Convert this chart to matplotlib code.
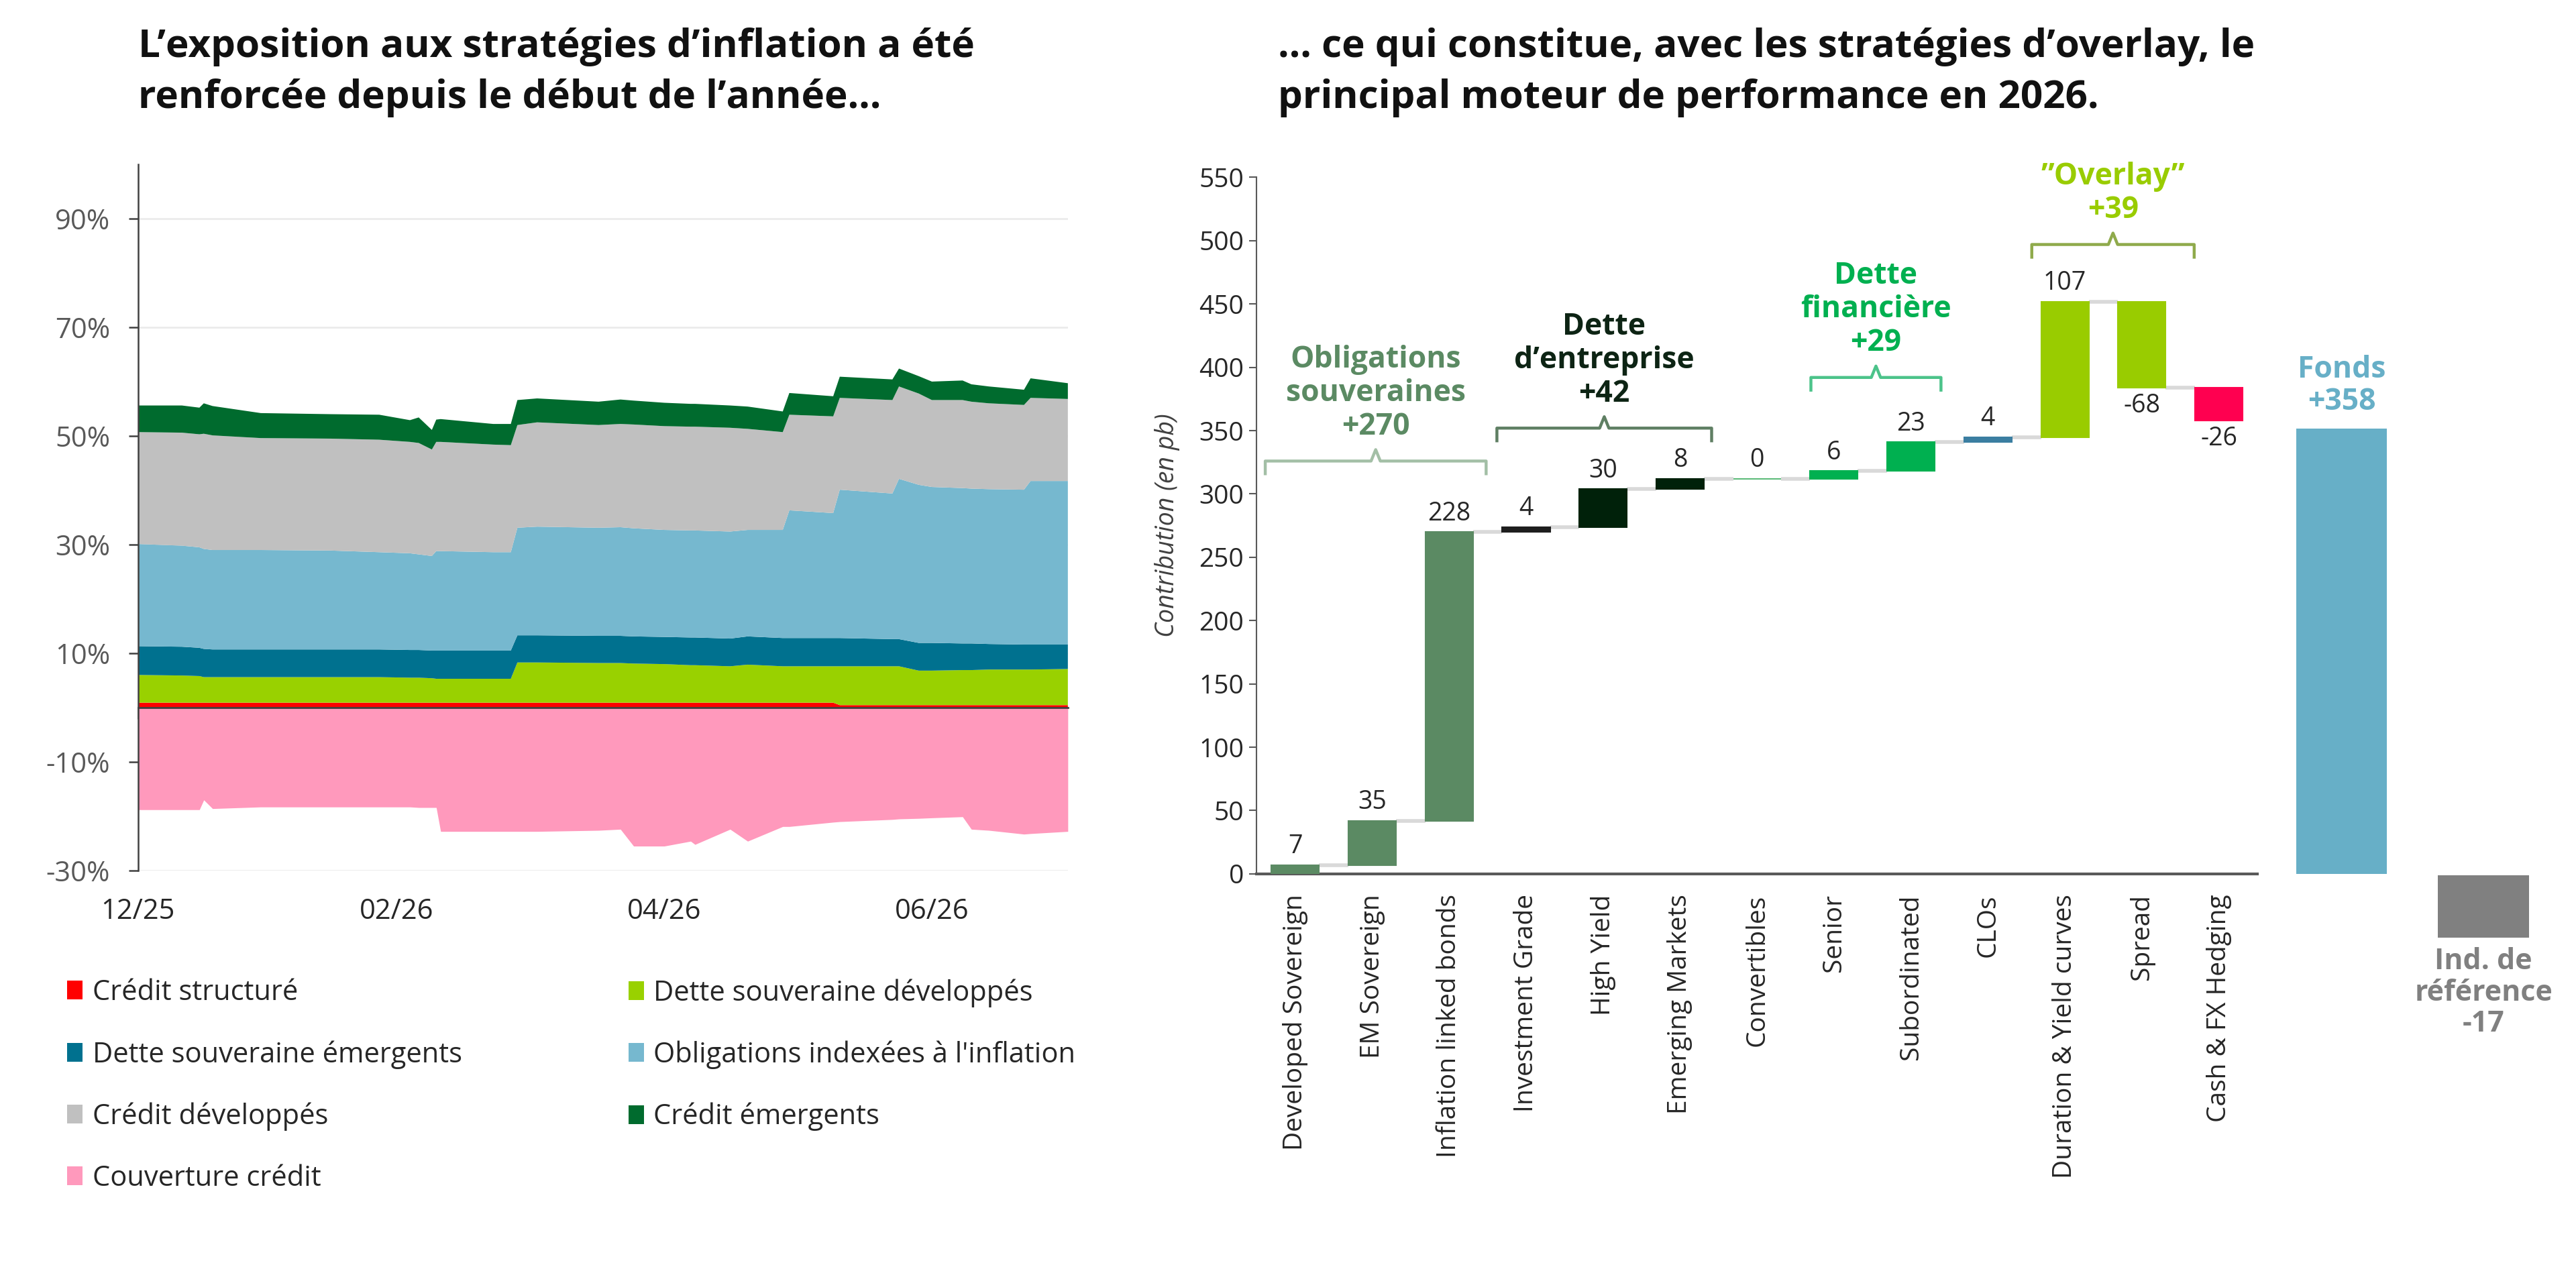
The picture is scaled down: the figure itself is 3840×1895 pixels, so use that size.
import numpy as np
import matplotlib
matplotlib.use('Agg')
import matplotlib.pyplot as plt
from matplotlib.patches import Patch

plt.rcParams['font.family'] = ['Open Sans', 'DejaVu Sans']

# ---------- left chart: exposures (% of NAV), days since 31/12/2025 ----------
DAYS = [0, 10, 14, 15, 17, 28, 44, 55, 62, 64, 67, 68, 69, 81, 85, 86.5, 91, 105,
        110, 113, 120, 126, 127, 135, 139, 147, 148.5, 158.5, 160, 172, 173.5,
        178, 181, 188, 190, 194, 202, 203.5, 212]

CREDIT_STRUCTURE = [0.9] * 28 + [0.45] * 11
DETTE_SOUV_DEV = [5.1, 5.0, 4.9, 4.7, 4.7, 4.7, 4.7, 4.7, 4.6, 4.6, 4.5, 4.4, 4.4,
                  4.4, 4.4, 7.4, 7.4, 7.3, 7.3, 7.2, 7.1, 6.9, 6.9, 6.7, 7.0, 6.7,
                  6.7, 6.7, 7.15, 7.15, 7.15, 6.35, 6.35, 6.45, 6.45, 6.55, 6.55,
                  6.55, 6.65]
DETTE_SOUV_EM = [5.3, 5.3, 5.2, 5.2, 5.1, 5.1, 5.1, 5.1, 5.1, 5.1, 5.1, 5.2, 5.2,
                 5.2, 5.2, 5.0, 5.0, 5.0, 5.0, 5.0, 5.0, 5.1, 5.1, 5.1, 5.2, 5.2,
                 5.2, 5.2, 5.2, 5.0, 5.0, 5.1, 5.1, 4.9, 4.9, 4.7, 4.6, 4.6, 4.5]
OBLIG_INDEXEES = [18.8, 18.6, 18.5, 18.4, 18.3, 18.3, 18.2, 17.9, 17.8, 17.6, 17.4,
                  18.3, 18.3, 18.1, 18.1, 19.8, 20.0, 19.9, 20.0, 19.9, 19.7, 19.7,
                  19.7, 19.7, 19.6, 19.9, 23.5, 23.0, 27.3, 26.8, 29.5, 29.1, 28.7,
                  28.6, 28.5, 28.5, 28.5, 30.1, 30.1]
CREDIT_DEV = [20.6, 20.8, 20.8, 21.2, 21.1, 20.6, 20.6, 20.7, 20.5, 20.5, 19.6,
              20.1, 20.1, 19.8, 19.7, 18.9, 19.2, 18.9, 19.0, 19.1, 19.1, 19.1,
              19.1, 19.1, 18.6, 18.0, 17.6, 17.8, 16.9, 17.2, 17.0, 16.8, 16.0,
              16.2, 16.0, 15.8, 15.6, 15.3, 15.1]
CREDIT_EM = [4.9, 5.0, 4.9, 5.6, 5.4, 4.6, 4.5, 4.6, 4.0, 4.7, 3.6, 4.1, 4.2, 3.8,
             3.9, 4.6, 4.4, 4.3, 4.5, 4.4, 4.3, 4.2, 4.2, 4.1, 4.1, 3.8, 4.0, 3.7,
             3.9, 3.8, 3.3, 3.2, 3.4, 3.6, 3.2, 3.1, 2.8, 3.6, 2.9]
COUVERTURE_CREDIT = [-18.8, -18.8, -18.8, -17.0, -18.6, -18.3, -18.3, -18.3, -18.3,
                     -18.4, -18.4, -18.4, -22.8, -22.8, -22.8, -22.8, -22.8, -22.6,
                     -22.4, -25.5, -25.5, -24.6, -25.2, -22.4, -24.6, -21.9, -21.9,
                     -21.1, -21.0, -20.6, -20.5, -20.4, -20.3, -20.1, -22.4, -22.6,
                     -23.3, -23.2, -22.8]

X_TICKS = [0, 59, 120, 181]
X_TICK_LABELS = ['12/25', '02/26', '04/26', '06/26']

SERIES_NAMES = ['Crédit structuré', 'Dette souveraine développés',
                'Dette souveraine émergents', "Obligations indexées à l'inflation",
                'Crédit développés', 'Crédit émergents', 'Couverture crédit']
SERIES_COLORS = ['#FF0000', '#99D100', '#00718F', '#76B8CF', '#C0C0C0', '#006B2E',
                 '#FF99BC']

# ---------- right chart: contributions (bp) ----------
CATEGORIES = ['Developed Sovereign', 'EM Sovereign', 'Inflation linked bonds',
              'Investment Grade', 'High Yield', 'Emerging Markets', 'Convertibles',
              'Senior', 'Subordinated', 'CLOs', 'Duration & Yield curves', 'Spread',
              'Cash & FX Hedging']
CONTRIB = [7, 35, 228, 4, 30, 8, 0, 6, 23, 4, 107, -68, -26]
BAR_COLORS = ['#5B8A63', '#5B8A63', '#5B8A63', '#1E1E1E', '#00210A', '#00210A',
              '#5DBB7A', '#00B050', '#00B050', '#3B7EA1', '#99CC00', '#99CC00',
              '#FF0050']

GROUP_NAMES = ['Obligations\nsouveraines', 'Dette\nd’entreprise', 'Dette\nfinancière',
               '”Overlay”']
GROUP_TOTALS = [270, 42, 29, 39]
FONDS = 358
INDICE_REF = -17

# layout of group braces (x in category units, y in bp)
GROUP_SPANS = [(-0.39, 2.48), (2.62, 5.41), (6.70, 8.39), (9.57, 11.68)]
GROUP_LEVELS = [326, 352, 392, 497]
GROUP_TEXT_COLORS = ['#5B8A63', '#0D2414', '#00B050', '#99CC00']
GROUP_BRACE_COLORS = ['#A3BFA6', '#5F7F63', '#4CC38A', '#8FAA4B']

TXT = '#262626'
W, H = 1568, 773.8  # reference layout grid

fig = plt.figure(figsize=(38.4, 18.95), dpi=100, facecolor='white')

# ================= LEFT: stacked exposures =================
ax = fig.add_axes([84 / W, 1 - 530 / H, (650 - 84) / W, (530 - 100) / H])
layers = [CREDIT_STRUCTURE, DETTE_SOUV_DEV, DETTE_SOUV_EM, OBLIG_INDEXEES,
          CREDIT_DEV, CREDIT_EM]
ax.stackplot(DAYS, *layers, colors=SERIES_COLORS[:6], linewidth=0, zorder=2)
ax.fill_between(DAYS, 0, COUVERTURE_CREDIT, color=SERIES_COLORS[6], linewidth=0,
                zorder=2)

ax.set_xlim(0, 212)
ax.set_ylim(-30, 100)
ax.set_yticks(np.arange(-30, 91, 20))
ax.set_yticklabels([f'{v}%' for v in range(-30, 91, 20)])
ax.grid(axis='y', color='#EBEBEB', linewidth=2, zorder=0)
ax.set_axisbelow(True)
for s in ['top', 'right']:
    ax.spines[s].set_visible(False)
ax.spines['left'].set_color('#404040')
ax.spines['left'].set_linewidth(1.8)
ax.spines['bottom'].set_position(('data', 0))
ax.spines['bottom'].set_color('#404040')
ax.spines['bottom'].set_linewidth(2)
ax.spines['bottom'].set_zorder(3)
ax.set_xticks(X_TICKS)
ax.set_xticklabels(X_TICK_LABELS)
ax.tick_params(axis='x', length=12, width=1.8, color='#404040', pad=192,
               labelsize=30, labelcolor=TXT)
ax.tick_params(axis='y', length=10, width=1.8, color='#404040', pad=20,
               labelsize=30, labelcolor='#595959')

order = [0, 2, 4, 6, 1, 3, 5]
col1 = [Patch(facecolor=SERIES_COLORS[i], label=SERIES_NAMES[i]) for i in order[:4]]
col2 = [Patch(facecolor=SERIES_COLORS[i], label=SERIES_NAMES[i]) for i in order[4:]]
leg_kw = dict(loc='upper left', frameon=False, fontsize=30, handlelength=0.55,
              handleheight=0.65, handletextpad=0.35, labelspacing=1.2,
              borderpad=0, borderaxespad=0, labelcolor=TXT)
fig.legend(handles=col1, bbox_to_anchor=(100 / 3840, 1 - 1459 / 1895), **leg_kw)
fig.legend(handles=col2, bbox_to_anchor=(937 / 3840, 1 - 1459 / 1895), **leg_kw)

fig.text(84 / W, 1 - 44 / H,
         'L’exposition aux stratégies d’inflation a été\nrenforcée depuis le début de l’année…',
         fontsize=42, fontweight='bold', color='#111111', ha='left', va='center',
         linespacing=1.42)

# ================= RIGHT: waterfall =================
ax2 = fig.add_axes([765 / W, 1 - 532 / H, (1374 - 765) / W, (532 - 108) / H])
x = np.arange(len(CATEGORIES))
ends = np.cumsum(CONTRIB)
starts = ends - np.array(CONTRIB)
bw = 0.62
ax2.bar(x, CONTRIB, bottom=starts, width=bw, color=BAR_COLORS,
        edgecolor=BAR_COLORS, linewidth=1.5, zorder=3)
ax2.hlines(ends[:-1], x[:-1] + bw / 2, x[1:] - bw / 2, color='#D9D9D9',
           linewidth=4, zorder=2)

for xi, v, e in zip(x, CONTRIB, ends):
    if v >= 0:
        ax2.annotate(str(v), (xi, e), xytext=(0, 6), textcoords='offset points',
                     ha='center', va='bottom', fontsize=27, color=TXT)
    else:
        ax2.annotate(str(v), (xi, e), xytext=(0, -6), textcoords='offset points',
                     ha='center', va='top', fontsize=27, color=TXT)

for name, tot, (x0, x1), lvl, tc, bc in zip(GROUP_NAMES, GROUP_TOTALS, GROUP_SPANS,
                                              GROUP_LEVELS, GROUP_TEXT_COLORS,
                                              GROUP_BRACE_COLORS):
    xc = (x0 + x1) / 2
    ax2.plot([x0, x0, xc - 0.06, xc, xc + 0.06, x1, x1],
             [lvl - 10, lvl, lvl, lvl + 9, lvl, lvl, lvl - 10],
             color=bc, linewidth=3.2, solid_joinstyle='round', zorder=4,
             clip_on=False)
    ax2.text(xc, lvl + 15, f'{name}\n+{tot}', ha='center', va='bottom',
             fontsize=32, fontweight='bold', color=tc, linespacing=1.15)

ax2.set_xlim(-0.5, len(CATEGORIES) - 0.5)
ax2.set_ylim(0, 550)
ax2.set_yticks(np.arange(0, 551, 50))
ax2.set_xticks(x)
ax2.set_xticklabels(CATEGORIES, rotation=90)
for s in ['top', 'right']:
    ax2.spines[s].set_visible(False)
ax2.spines['left'].set_color('#595959')
ax2.spines['left'].set_linewidth(1.5)
ax2.spines['bottom'].set_color('#595959')
ax2.spines['bottom'].set_linewidth(3)
ax2.tick_params(axis='x', length=0, pad=22, labelsize=28, labelcolor=TXT)
ax2.tick_params(axis='y', length=8, width=1.5, color='#595959', pad=6,
                labelsize=28, labelcolor=TXT)
ax2.set_ylabel('Contribution (en pb)', fontsize=27, style='italic', color='#404040',
               labelpad=20)

# Fonds bar
axf = fig.add_axes([1382 / W, 1 - 532 / H, (1555 - 1382) / W, (532 - 108) / H])
axf.bar([0], [FONDS], width=0.64, color='#67AFC7', zorder=3)
axf.annotate(f'Fonds\n+{FONDS}', (0, FONDS), xytext=(0, 12), textcoords='offset points',
             ha='center', va='bottom', fontsize=32, fontweight='bold',
             color='#67AFC7', linespacing=1.1)
axf.set_xlim(-0.5, 1.5)
axf.set_ylim(0, 560)
axf.axis('off')

# Benchmark bar (own scale, as in the source slide)
axr = fig.add_axes([1382 / W, 1 - 571 / H, (1555 - 1382) / W, (571 - 533) / H])
axr.bar([1], [INDICE_REF], width=0.64, color='#808080', zorder=3)
axr.annotate(f'Ind. de\nréférence\n{INDICE_REF}', (1, INDICE_REF), xytext=(0, -10),
             textcoords='offset points', ha='center', va='top', fontsize=31,
             fontweight='bold', color='#808080', linespacing=1.1)
axr.set_xlim(-0.5, 1.5)
axr.set_ylim(INDICE_REF, 0)
axr.axis('off')

fig.text(778 / W, 1 - 44 / H,
         '… ce qui constitue, avec les stratégies d’overlay, le\nprincipal moteur de performance en 2026.',
         fontsize=42, fontweight='bold', color='#111111', ha='left', va='center',
         linespacing=1.42)

fig.savefig('out.png', dpi=100, facecolor='white')
